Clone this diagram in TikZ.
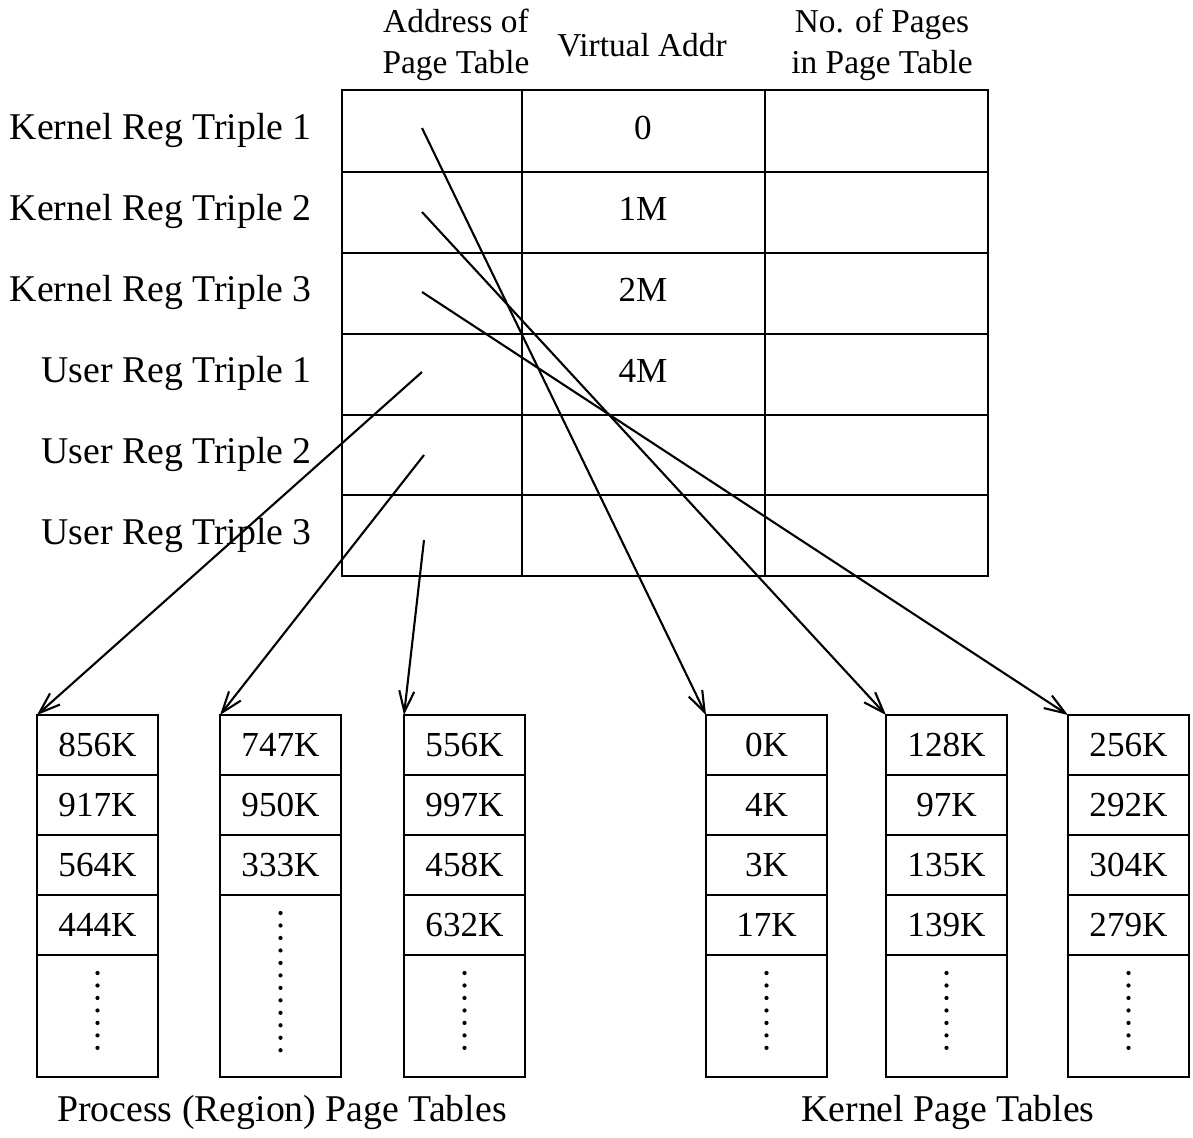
\documentclass[tikz,border=0pt]{standalone}
\usepackage{fontspec}
\setmainfont{Liberation Serif}
\usetikzlibrary{positioning,arrows.meta,calc}

\begin{document}
\begin{tikzpicture}[x=0.02cm, y=-0.02cm, line width=1.6pt,
    font=\fontsize{20}{23}\selectfont,
    lbl/.style={font=\fontsize{21.5}{24}\selectfont},
    hdr/.style={align=center, font=\fontsize{19}{23}\selectfont},
    pcell/.style={draw, minimum width=2.42cm, minimum height=1.2cm, inner sep=0pt, outer sep=0pt},
    ptab/.style={draw, anchor=north west, minimum width=2.42cm, minimum height=7.24cm, inner sep=0pt, outer sep=0pt},
    dotline/.style={line width=2.4pt, line cap=round, dash pattern=on 0pt off 7.1pt},
    ptr/.style={line width=1.2pt, -{Straight Barb[length=4.2mm, width=3mm]}}]
    \useasboundingbox (0,0) rectangle (1193,1137);
    % region triples
    \draw (342,90) rectangle (988,576);
    \foreach \y in {172,253,334,415,495} \draw (342,\y) -- (988,\y);
    \foreach \x in {522,765} \draw (\x,90) -- (\x,576);
    \node[hdr] (hdaddr) at (456,45) {Address of\\Page Table};
    \node[hdr] (hdvirt) at (642,45) {Virtual Addr};
    \node[hdr] (hdpages) at (882,45) {No. of Pages\\in Page Table};
    \foreach \lab [count=\i] in {Kernel Reg Triple 1, Kernel Reg Triple 2, Kernel Reg Triple 3,
        User Reg Triple 1, User Reg Triple 2, User Reg Triple 3}
      \node[lbl, anchor=east] (lab\i) at (319,{49.5+81*\i}) {\lab};
    \foreach \va [count=\i] in {0,1M,2M,4M}
      \node (va\i) at (643,{46.5+81*\i}) {\va};
    \coordinate (kr1) at (422,128);
    \coordinate (kr2) at (422,212);
    \coordinate (kr3) at (422,292);
    \coordinate (ur1) at (422,372);
    \coordinate (ur2) at (424,455);
    \coordinate (ur3) at (424,540);
    % page tables
    \foreach \tname/\tx/\n/\vals in {pa/37/4/{856K,917K,564K,444K}, pb/220/3/{747K,950K,333K},
        pc/404/4/{556K,997K,458K,632K}, ka/706/4/{0K,4K,3K,17K},
        kb/886/4/{128K,97K,135K,139K}, kc/1068/4/{256K,292K,304K,279K}} {
      \node[ptab] (\tname) at (\tx,715) {};
      \foreach \v [count=\i] in \vals
        \node[pcell] (\tname-\i) at (\tx+60.5,{685+60*\i}) {\v};
      \draw[dotline] (\tx+60.5,{733+60*\n}) -- (\tx+60.5,1055);
    }
    \draw[ptr] (kr1) -- (ka.north west);
    \draw[ptr] (kr2) -- (kb.north west);
    \draw[ptr] (kr3) -- (kc.north west);
    \draw[ptr] (ur1) -- (pa.north west);
    \draw[ptr] (ur2) -- (pb.north west);
    \draw[ptr] (ur3) -- (pc.north west);
    \node[lbl] (proccap) at (282,1112) {Process (Region) Page Tables};
    \node[lbl] (kerncap) at (948,1112) {Kernel Page Tables};
\end{tikzpicture}
\end{document}
